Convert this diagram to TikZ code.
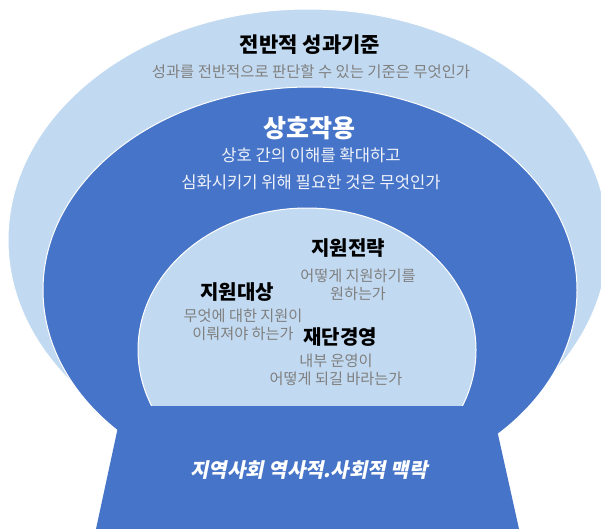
\documentclass[tikz,border=0pt]{standalone}
\usepackage{fontspec}
\setmainfont{Noto Sans CJK KR}
\newfontfamily\kritbf{Noto Sans CJK KR}[FakeSlant=0.2]
\definecolor{lightb}{HTML}{C2DAF1}
\definecolor{darkb}{HTML}{4674C8}
\definecolor{graytxt}{HTML}{7F7F7F}
\definecolor{softwhite}{HTML}{F0F3FA}
\begin{document}
\begin{tikzpicture}[x=1pt,y=-1pt,
  ttl/.style={font=\fontsize{21}{24}\selectfont\bfseries, text=black, inner sep=0pt},
  sub/.style={font=\fontsize{15.4}{18}\selectfont, text=graytxt, inner sep=0pt, align=center},
  wttl/.style={font=\fontsize{25}{28}\selectfont\bfseries, text=white, inner sep=0pt},
  wsub/.style={font=\fontsize{16.6}{19}\selectfont, text=softwhite, inner sep=0pt},
  ittl/.style={font=\fontsize{20}{23}\selectfont\bfseries, text=black, inner sep=0pt},
  isub/.style={font=\fontsize{15.2}{17.5}\selectfont, text=graytxt, inner sep=0pt, align=center},
  btxt/.style={font=\fontsize{20}{23}\selectfont\kritbf\bfseries, text=white, inner sep=0pt}]
\useasboundingbox (0,0) rectangle (601,528);
\clip (0,0) rectangle (601,528);
\fill[white] (0,0) rectangle (601,528);
% outer light ellipse
\filldraw[fill=lightb, draw=white, line width=1pt] (308,240) ellipse [x radius=300, y radius=231];
% dark ellipse
\filldraw[fill=darkb, draw=white, line width=1pt] (310,290) ellipse [x radius=267, y radius=203];
% trapezoid base
\fill[darkb] (118,427) -- (497,430) -- (519,529) -- (96,529) -- cycle;
% inner light dome
\begin{scope}
  \clip (0,0) rectangle (601,405);
  \filldraw[fill=lightb, draw=white, line width=1pt] (307,350) ellipse [x radius=169, y radius=142];
\end{scope}
% texts
\node[ttl] (t1) at (310,45) {전반적 성과기준};
\node[sub] (s1) at (311,72) {성과를 전반적으로 판단할 수 있는 기준은 무엇인가};
\node[wttl] (t2) at (309,128) {상호작용};
\node[wsub] (s2a) at (311,155) {상호 간의 이해를 확대하고};
\node[wsub] (s2b) at (311,182) {심화시키기 위해 필요한 것은 무엇인가};
\node[ittl] (t3) at (348,248) {지원전략};
\node[isub] (s3) at (358,285) {어떻게 지원하기를\\원하는가};
\node[ittl] (t4) at (237,292) {지원대상};
\node[isub] (s4) at (243,325) {무엇에 대한 지원이\\이뤄져야 하는가};
\node[ittl] (t5) at (340,337) {재단경영};
\node[isub] (s5) at (336,370) {내부 운영이\\어떻게 되길 바라는가};
\node[btxt] (b) at (309,470) {지역사회 역사적.사회적 맥락};
\end{tikzpicture}
\end{document}
